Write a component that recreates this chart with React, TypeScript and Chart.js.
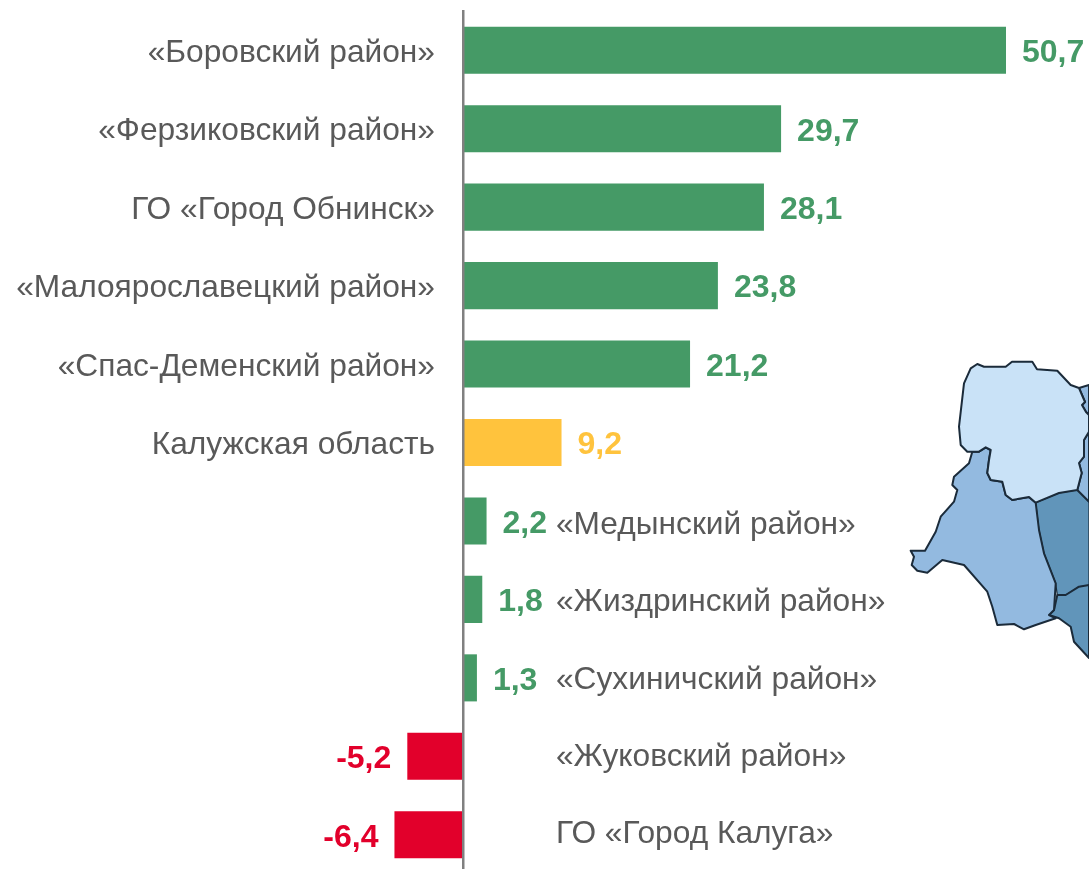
import React, { useEffect, useRef } from "react";
import { Chart, registerables } from "chart.js";

Chart.register(...registerables);

const categories = [
  "«Боровский район»",
  "«Ферзиковский район»",
  "ГО «Город Обнинск»",
  "«Малоярославецкий район»",
  "«Спас-Деменский район»",
  "Калужская область",
  "«Медынский район»",
  "«Жиздринский район»",
  "«Сухиничский район»",
  "«Жуковский район»",
  "ГО «Город Калуга»",
];
const values = [50.7, 29.7, 28.1, 23.8, 21.2, 9.2, 2.2, 1.8, 1.3, -5.2, -6.4];
const labelsOnLeft = [true, true, true, true, true, true, false, false, false, false, false];

const GREEN = "#459A66";
const YELLOW = "#FFC33D";
const RED = "#E2002B";
const TEXT = "#595959";
const FONT = '"Liberation Sans", Arial, sans-serif';

const colorFor = (v: number, i: number) => (i === 5 ? YELLOW : v < 0 ? RED : GREEN);
const fmt = (v: number) => v.toFixed(1).replace(".", ",");

const textPlugin = {
  id: "sideText",
  afterDatasetsDraw(chart: any) {
    const { ctx, scales } = chart;
    const x = scales.x;
    const y = scales.y;
    const zero = x.getPixelForValue(0);
    const rightAnchor = y.getPixelForValue(8);
    ctx.save();
    ctx.textBaseline = "middle";
    values.forEach((v, i) => {
      const py = y.getPixelForValue(i);
      ctx.font = `31.7px ${FONT}`;
      ctx.fillStyle = TEXT;
      if (labelsOnLeft[i]) {
        ctx.textAlign = "right";
        ctx.fillText(categories[i], zero - 28, py + 3);
      } else {
        ctx.textAlign = "left";
        ctx.fillText(categories[i], zero + 93, rightAnchor + (i - 8) * 77.4 + 2);
      }
      ctx.font = `bold 32px ${FONT}`;
      ctx.fillStyle = colorFor(v, i);
      const end = x.getPixelForValue(v);
      if (v < 0) {
        ctx.textAlign = "right";
        ctx.fillText(fmt(v), end - 16, py + 3);
      } else {
        ctx.textAlign = "left";
        ctx.fillText(fmt(v), end + 16, py + 3);
      }
    });
    ctx.restore();
  },
};

export default function App() {
  const ref = useRef<HTMLCanvasElement>(null);
  useEffect(() => {
    document.body.style.margin = "0";
    const chart = new Chart(ref.current as HTMLCanvasElement, {
      type: "bar",
      data: {
        labels: categories,
        datasets: [
          {
            data: values,
            backgroundColor: values.map(colorFor),
            barPercentage: 0.6,
            categoryPercentage: 1,
          },
        ],
      },
      options: {
        indexAxis: "y",
        responsive: false,
        animation: false,
        layout: { padding: { top: 11, bottom: 6, left: 0, right: 0 } },
        plugins: { legend: { display: false }, tooltip: { enabled: false } },
        scales: {
          x: { display: false, min: -43.23, max: 58.45 },
          y: {
            position: { x: 0 },
            grid: { display: false },
            ticks: { display: false },
            border: { display: true, color: "#808080", width: 2.5, z: 2 },
          },
        },
      },
      plugins: [textPlugin],
    } as any);
    return () => chart.destroy();
  }, []);

  return (
    <div style={{ position: "fixed", left: 0, top: 0, width: 1089, height: 869, overflow: "hidden", background: "#fff" }}>
      <svg width={1089} height={869} style={{ position: "absolute", left: 0, top: 0 }}>
        <g stroke="#1B2B3A" strokeWidth={2} strokeLinejoin="round">
          <path fill="#6195BA" strokeWidth={1.2} d="M1035.7 502.7L1059 493L1077.3 490L1089 501.7L1089 586L1079 586.7L1065.7 595L1057.3 595L1055.7 583.3L1044 553.3L1039 530Z" />
          <path fill="#6195BA" d="M1057.3 595L1065.7 595L1079 586.7L1089 585L1089 658L1074 641.7L1070.7 626.7L1059 618.3L1049 615L1054 610Z" />
          <path fill="#93BAE0" d="M1079 388L1089 385L1089 501.7L1077.3 490L1081.7 473L1079 463L1084 456.7L1084 440L1089 431.7L1089 415L1086 412L1082 405L1085 402L1082 395Z" />
          <path fill="#93BAE0" d="M972.3 451.7L979 451.7L985.7 447.3L990.7 450L989 460L987.3 473L990.7 480L1002.3 481.7L1005.7 495L1012.3 500L1029 497L1035.7 502.7L1039 530L1044 553.3L1055.7 583.3L1054 610L1049 615L1055.7 618.3L1035.7 625L1024 629.3L1014 624L997.3 625L992.3 606.7L987.3 591.7L964 565L942.3 560L927.3 572.7L917.3 570.7L911.7 565L914 556.7L910.7 550.7L925 550.7L935.7 531.7L940.7 516.7L954 501.7L957.3 490L952.3 485L954 476.7L969 463.3Z" />
          <path fill="#C9E2F7" d="M977.3 364L984 366.7L1005.7 366.7L1012 361.7L1032.3 361.7L1037 369.3L1057.3 370.7L1070.7 385L1079 388L1082 395L1085 402L1082 405L1086 412L1089 415L1089 431.7L1084 440L1084 456.7L1079 463L1081.7 473L1077.3 490L1059 493L1035.7 502.7L1029 497L1012.3 500L1005.7 495L1002.3 481.7L990.7 480L987.3 473L989 460L990.7 450L985.7 447.3L979 451.7L967.3 451.7L960.7 445L959 426.7L964 383.3L970.7 368.3Z" />
        </g>
      </svg>
      <canvas ref={ref} width={1089} height={880} style={{ position: "absolute", left: 0, top: 0 }} />
    </div>
  );
}
